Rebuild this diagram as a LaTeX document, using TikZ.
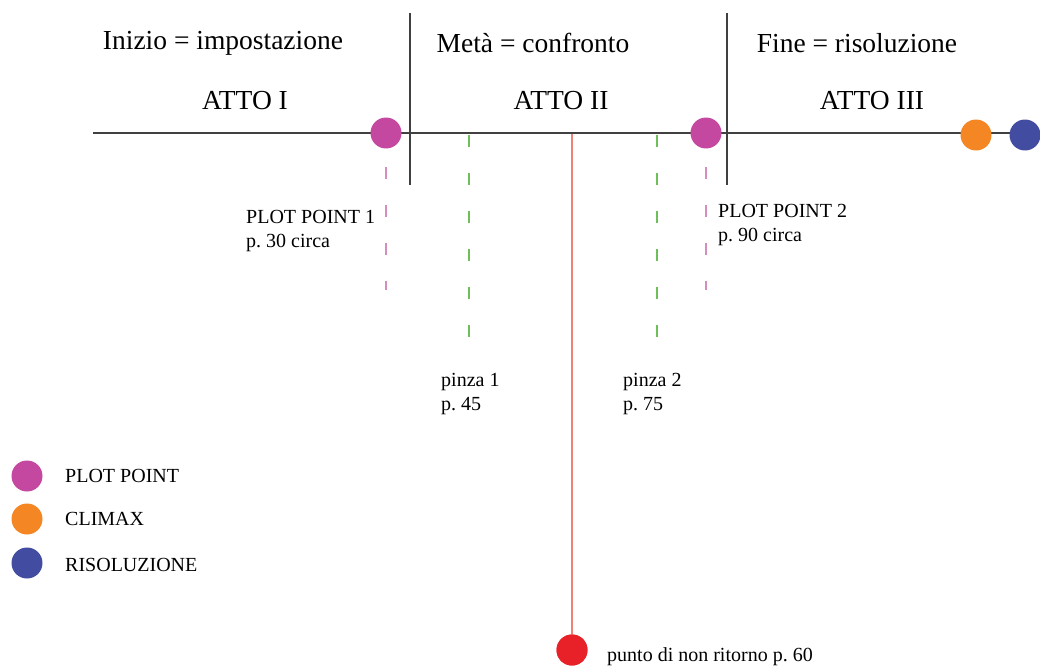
\documentclass[tikz,border=0pt]{standalone}
\usepackage{fontspec}
\setmainfont{Liberation Serif}
\frenchspacing
\begin{document}
\begin{tikzpicture}[x=1pt,y=-1pt,
  big/.style={font=\fontsize{27.5}{30}\selectfont, inner sep=0pt},
  small/.style={font=\fontsize{20}{24}\selectfont, inner sep=0pt, align=left},
  dot/.style={circle, inner sep=0pt, minimum size=31pt},
  axis/.style={draw=black!75, line width=1.6pt},
  pinkdash/.style={draw={rgb,255:red,214;green,140;blue,190}, line width=1.2pt, dash pattern=on 12pt off 26pt},
  greendash/.style={draw={rgb,255:red,110;green,190;blue,90}, line width=1.2pt, dash pattern=on 12pt off 26pt}]
\definecolor{plotc}{RGB}{196,72,160}
\definecolor{climc}{RGB}{244,134,36}
\definecolor{risc}{RGB}{66,76,160}
\definecolor{redc}{RGB}{232,32,40}
\definecolor{redl}{RGB}{238,130,120}
\useasboundingbox (0,0) rectangle (1040,666);
% axis and separators
\coordinate (L) at (93,133);
\coordinate (R) at (1040,133);
\draw[axis] (L) -- (R);
\coordinate (s1t) at (410,13); \coordinate (s1b) at (410,185);
\coordinate (s2t) at (727,13); \coordinate (s2b) at (727,185);
\draw[axis] (s1t) -- (s1b);
\draw[axis] (s2t) -- (s2b);
% dashed lines
\coordinate (p1a) at (386,167); \coordinate (p1b) at (386,290);
\coordinate (p2a) at (706,167); \coordinate (p2b) at (706,290);
\draw[pinkdash] (p1a) -- (p1b);
\draw[pinkdash] (p2a) -- (p2b);
\coordinate (g1a) at (469,135); \coordinate (g1b) at (469,355);
\coordinate (g2a) at (657,135); \coordinate (g2b) at (657,355);
\draw[greendash] (g1a) -- (g1b);
\draw[greendash] (g2a) -- (g2b);
% red line
\coordinate (rt) at (572,134);
\node[dot, fill=redc] (nr) at (572,650) {};
\draw[redl, line width=1.6pt] (rt) -- (nr.center);
\node[dot, fill=redc] at (572,650) {};
% dots
\node[dot, fill=plotc] (pp1) at (386,133) {};
\node[dot, fill=plotc] (pp2) at (706,133) {};
\node[dot, fill=climc] (cl) at (976,135) {};
\node[dot, fill=risc] (rs) at (1025,135) {};
% titles
\node[big] (t1) at (223,43) {Inizio = impostazione};
\node[big] (t2) at (533,43) {Metà = confronto};
\node[big] (t3) at (857,43) {Fine = risoluzione};
\node[big] (a1) at (245,101) {ATTO I};
\node[big] (a2) at (561,101) {ATTO II};
\node[big] (a3) at (872,101) {ATTO III};
% labels
\node[small, anchor=west] (l1) at (246,231) {PLOT POINT 1\\p. 30 circa};
\node[small, anchor=west] (l2) at (718,225) {PLOT POINT 2\\p. 90 circa};
\node[small, anchor=west] (l3) at (441,394) {pinza 1\\p. 45};
\node[small, anchor=west] (l4) at (623,394) {pinza 2\\p. 75};
\node[small, anchor=west] (l5) at (607,657) {punto di non ritorno p. 60};
% legend
\node[dot, fill=plotc] (k1) at (27,476) {};
\node[dot, fill=climc] (k2) at (27,519) {};
\node[dot, fill=risc] (k3) at (27,563) {};
\node[small, anchor=west] (k1t) at (65,476) {PLOT POINT};
\node[small, anchor=west] (k2t) at (65,519) {CLIMAX};
\node[small, anchor=west] (k3t) at (65,565) {RISOLUZIONE};
\end{tikzpicture}
\end{document}
